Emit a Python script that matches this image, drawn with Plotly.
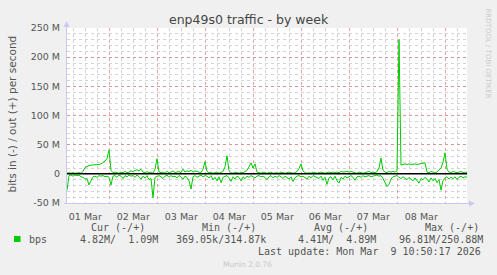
import pandas as pd
import plotly.graph_objects as go

# ---------------- data (Mbit/s, hourly samples) ----------------
start_time = "2026-03-01 02:50"
step = "h"
range_end = "2026-03-09 10:50"

out_vals = [
    1, 2, 1, 2, 1, 2, 2, 1,
    4, 11, 13, 14, 15, 15, 16, 15, 16, 17, 19, 22, 26, 41, 6, 2,
    3, 2, 1, 3, 2, 4, 2, 3, 5, 4, 6,
    7, 5, 8, 3, 2, 4, 2, 3, 1, 8, 26, 3,
    2, 3, 1, 4, 2, 3, 5, 2, 3, 4, 2,
    8, 3, 5, 4, 6, 3, 5, 4, 3, 2, 8, 21, 4,
    2, 3, 1, 2, 3, 1, 2, 4,
    12, 31, 5,
    2, 1, 3, 2, 1, 3, 2, 4, 6,
    12, 19, 10, 17, 3,
    2, 1, 3, 2, 1, 2, 3, 1, 2, 2, 1, 3, 2, 1, 2, 3, 2, 1, 2, 4,
    9, 17, 5,
    2, 1, 2, 1, 3, 2, 1, 2, 3, 2, 1, 2, 3, 2, 3, 2, 3, 2,
    4, 3, 4, 4, 3, 4,
    3,
    2, 1, 3, 2, 1, 2, 3, 4, 2, 3, 2, 4,
    10, 27, 6,
    3, 2, 4, 3, 4, 3,
    5, 230, 15,
    16, 17, 16, 17, 16, 17, 17, 16, 17, 17, 18,
    19, 3,
    2, 4, 3, 2, 3, 6, 10,
    20, 36, 8,
    3, 2, 4, 3, 2, 3, 4, 2, 3, 3,
]

in_vals = [
    -28, -3, -2, -4, -2, -3, -2, -5,
    -6, -9, -8, -19, -12, -5, -4, -6, -3, -4, -3, -5, -4, -6, -19, -4,
    -3, -6, -2, -4, -8, -3, -5, -2, -4, -3, -6, -2,
    -5, -9, -4, -7, -3, -10,
    -8, -41, -6, -4,
    -3, -5, -8, -4, -2, -6, -3, -5, -4, -7, -3, -5, -9, -4, -6,
    -12, -26, -5,
    -3, -6, -4, -2, -5, -3, -4, -7, -3, -10,
    -6,
    -12, -5, -15, -6, -4,
    -3, -7, -13, -5, -9, -4, -6, -12, -5, -8, -4,
    -6, -3, -5, -7, -4, -3, -5, -4, -6,
    -10, -5, -3, -7, -4, -6, -3, -5, -8, -4, -6, -9, -5, -13, -7, -4,
    -3, -5, -4, -6, -9, -4, -7, -3, -5, -6,
    -8, -4, -11, -6, -18, -7, -5, -10, -4, -12,
    -16, -6, -9, -4, -7, -5, -3, -6, -11, -5,
    -4, -6, -3, -5, -4, -3, -5, -4, -3, -2,
    -4, -3, -8, -14, -22, -18, -9, -5, -4, -3,
    -6,
    -8, -5, -7, -10, -6, -9, -12, -7, -11, -16,
    -8, -10, -6, -9, -14, -7, -12, -8, -15, -10, -28,
    -12, -7, -5, -9, -6, -8, -5, -10, -6, -4, -7, -5, -6,
]

y_tickvals = [-50, 0, 50, 100, 150, 200, 250]
y_ticktext = ["-50 M", "0", "50 M", "100 M", "150 M", "200 M", "250 M"]

legend_headers = ["Cur (-/+)", "Min (-/+)", "Avg (-/+)", "Max (-/+)"]
legend_values = ["4.82M/  1.09M", "369.05k/314.87k", "4.41M/  4.89M", "96.81M/250.88M"]
series_name = "bps"
last_update = "Last update: Mon Mar  9 10:50:17 2026"

# ---------------- layout geometry ----------------
W, H = 497, 275
PL, PR, PT, PB = 67, 467, 28, 203  # plot area in pixels
green = "#00CC00"
text_col = "#555555"
mono = "DejaVu Sans Mono"
sans = "DejaVu Sans"


def px(x):
    return (x - PL) / (PR - PL)


def py(y):
    return (PB - y) / (PB - PT)


t_out = pd.date_range(start_time, periods=len(out_vals), freq=step)
t_in = pd.date_range(start_time, periods=len(in_vals), freq=step)

fig = go.Figure()
fig.add_trace(go.Scatter(x=t_in, y=in_vals, mode="lines",
                         line=dict(color=green, width=1), hoverinfo="skip"))
fig.add_trace(go.Scatter(x=t_out, y=out_vals, mode="lines",
                         line=dict(color=green, width=1), hoverinfo="skip"))

major_grid = "rgba(225,130,130,0.75)"
minor_grid = "#d4d4d4"

fig.update_layout(
    width=W, height=H,
    margin=dict(l=PL, r=W - PR, t=PT, b=H - PB, pad=0),
    paper_bgcolor="#F0F0F0",
    plot_bgcolor="#FFFFFF",
    showlegend=False,
    font=dict(family=sans, color=text_col, size=9.5),
    xaxis=dict(
        type="date",
        range=[start_time, range_end],
        tick0="2026-03-01", dtick=86400000,
        tickformat="%d %b", ticklabelmode="period",
        ticks="", showline=False, zeroline=False,
        showgrid=True, gridcolor=major_grid, griddash="dot", gridwidth=1,
        minor=dict(dtick=6 * 3600000, tick0="2026-03-01", showgrid=True,
                   gridcolor=minor_grid, griddash="dot", gridwidth=1),
        tickfont=dict(family=sans, size=9.5, color=text_col),
        ticklabelstandoff=6,
        automargin=False, fixedrange=True,
    ),
    yaxis=dict(
        range=[-50, 250],
        tickvals=y_tickvals, ticktext=y_ticktext,
        ticks="", showline=False, zeroline=False,
        showgrid=True, gridcolor=major_grid, griddash="dot", gridwidth=1,
        minor=dict(dtick=10, tick0=0, showgrid=True,
                   gridcolor=minor_grid, griddash="dot", gridwidth=1),
        tickfont=dict(family=sans, size=9.5, color=text_col),
        ticklabelstandoff=6,
        automargin=False, fixedrange=True,
    ),
)

axis_col = "#C8C8F4"
shapes = [
    # zero line (black, above data)
    dict(type="line", xref="paper", yref="y", x0=0, x1=1, y0=0, y1=0,
         line=dict(color="black", width=1.5), layer="above"),
    # left axis
    dict(type="line", xref="paper", yref="paper", x0=px(66.5), x1=px(66.5),
         y0=py(204), y1=py(25), line=dict(color=axis_col, width=1), layer="above"),
    dict(type="path", xref="paper", yref="paper",
         path=f"M {px(63.5)} {py(27)} L {px(69.5)} {py(27)} L {px(66.5)} {py(21)} Z",
         fillcolor=axis_col, line=dict(width=0), layer="above"),
    # bottom axis
    dict(type="line", xref="paper", yref="paper", x0=px(64), x1=px(470),
         y0=py(203.5), y1=py(203.5), line=dict(color=axis_col, width=1), layer="above"),
    dict(type="path", xref="paper", yref="paper",
         path=f"M {px(469)} {py(200.5)} L {px(469)} {py(206.5)} L {px(475)} {py(203.5)} Z",
         fillcolor=axis_col, line=dict(width=0), layer="above"),
    # legend colour box
    dict(type="rect", xref="paper", yref="paper", x0=px(14), x1=px(20.5),
         y0=py(242), y1=py(236), fillcolor=green, line=dict(width=0)),
]
fig.update_layout(shapes=shapes)

ann = []


def add_text(text, x, y, xanchor="left", size=10, family=mono, color=text_col, angle=0):
    ann.append(dict(text=text, x=px(x), y=py(y), xref="paper", yref="paper",
                    xanchor=xanchor, yanchor="middle", showarrow=False,
                    textangle=angle,
                    font=dict(family=family, size=size, color=color)))


# title
add_text("enp49s0 traffic - by week", 248.5, 19.5, xanchor="center",
         size=12.5, family=sans, color="#444444")
# y axis title
add_text("bits in (-) / out (+) per second", 11.5, 114, xanchor="center",
         size=10.5, family=sans, color=text_col, angle=-90)
# rrdtool watermark
add_text("RRDTOOL / TOBI OETIKER", 487.5, 53, xanchor="center",
         size=7, family=sans, color="#CCCCCC", angle=90)

# legend headers
header_x = [89, 200, 312, 423]
for hx, h in zip(header_x, legend_headers):
    add_text(h, hx, 227.5)
add_text(series_name, 27, 239)
value_x = [78, 174, 295.5, 397]
for vx, v in zip(value_x, legend_values):
    add_text(v, vx, 239)
add_text(last_update, 483, 251.5, xanchor="right")
add_text("Munin 2.0.76", 247.5, 264.5, xanchor="center", size=7.5,
         family=sans, color="#C8C8C8")

fig.update_layout(annotations=ann)

fig.write_html("out.html")
